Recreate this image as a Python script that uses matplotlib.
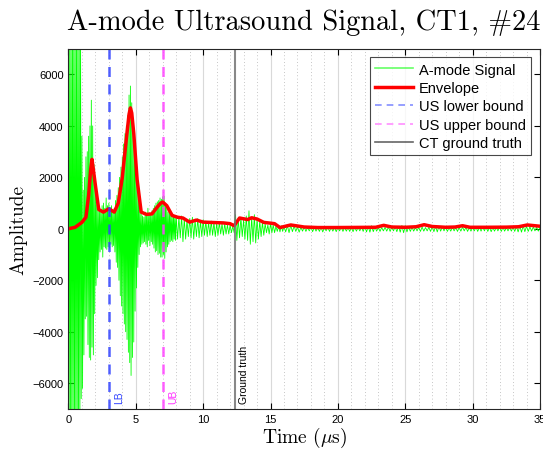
import numpy as np
import matplotlib
matplotlib.use("Agg")
import matplotlib.pyplot as plt
from matplotlib.ticker import MultipleLocator

# A-mode signal: positive / negative half-cycle peaks
# 0.0 - 7.9 us, step 0.1
peak_hi_a = [8000, 8000, 8000, 8000, 8000, 8000, 8000, 8000, 8000, 8000,
             3600, 1500, 2000, 2800, 3000, 3600, 4000, 5000, 4000, 2500,
             1600, 1200, 900, 800, 700, 900, 1000, 800, 1200, 900,
             1000, 800, 900, 700, 800, 1100, 1300, 1600, 2000, 2400,
             2800, 3300, 3700, 4000, 4400, 5200, 5550, 4900, 4200, 3500,
             2600, 1800, 1200, 800, 600, 500, 450, 650, 500, 800,
             600, 550, 700, 800, 900, 1000, 1050, 1100, 1200, 1150,
             1250, 1270, 1000, 800, 650, 600, 650, 500, 550, 450]
peak_lo_a = [-8000, -8000, -8000, -8000, -8000, -8000, -8000, -8000, -8000, -6600,
             -6200, -4900, -3500, -3400, -4500, -5000, -5100, -4600, -4900, -3300,
             -2200, -1900, -1200, -900, -800, -1100, -700, -750, -800, -700,
             -750, -600, -700, -650, -900, -1300, -1500, -2000, -2600, -3000,
             -3300, -3700, -4000, -4300, -4800, -5200, -5700, -5000, -4400, -3200,
             -2300, -1500, -1000, -700, -600, -550, -500, -600, -700, -450,
             -650, -500, -600, -750, -900, -850, -1000, -950, -1100, -1100,
             -1000, -1150, -900, -700, -600, -500, -450, -500, -400, -450]
# 8.0 - 15.8 us, step 0.2
peak_hi_b = [500, 450, 500, 400, 350, 400, 450, 350, 400, 300,
             350, 300, 250, 300, 250, 200, 250, 200, 200, 150,
             150, 100, 550, 400, 450, 350, 500, 700, 450, 550,
             400, 300, 250, 200, 150, 200, 150, 100, 100, 120]
peak_lo_b = [-400, -350, -500, -400, -300, -350, -400, -300, -350, -300,
             -250, -300, -250, -250, -300, -250, -200, -250, -200, -200,
             -150, -150, -450, -350, -300, -400, -450, -600, -500, -550,
             -400, -300, -250, -150, -200, -150, -150, -100, -120, -100]
# 16.0 - 35.0 us, step 0.25
peak_hi_c = [90, 120, 140, 110, 80, 60, 70, 50, 60, 70,
             50, 60, 50, 70, 60, 50, 60, 70, 60, 50,
             60, 70, 60, 80, 90, 100, 120, 80, 60, 50,
             60, 70, 60, 80, 100, 130, 120, 80, 60, 50,
             60, 70, 50, 60, 80, 90, 100, 80, 60, 50,
             60, 50, 60, 70, 60, 50, 60, 70, 60, 70,
             80, 60, 50, 60, 70, 60, 50, 60, 70, 90,
             110, 120, 100, 80, 70, 60, 60]
peak_lo_c = [-120, -150, -110, -100, -130, -90, -100, -80, -110, -90,
             -100, -120, -80, -100, -90, -110, -80, -100, -90, -100,
             -110, -90, -80, -100, -120, -130, -110, -90, -100, -80,
             -90, -100, -80, -110, -130, -150, -120, -100, -90, -80,
             -100, -90, -80, -100, -110, -120, -90, -80, -100, -90,
             -80, -100, -90, -80, -100, -90, -80, -100, -90, -80,
             -100, -110, -90, -80, -100, -90, -80, -90, -100, -120,
             -130, -110, -100, -90, -80, -90, -100]

# Envelope (time in us, amplitude)
env_t = [0.0, 0.5, 1.0, 1.3, 1.5, 1.65, 1.75, 1.85, 2.0, 2.25, 2.6, 3.0,
         3.4, 3.7, 4.0, 4.3, 4.5, 4.6, 4.7, 4.85, 5.1, 5.4, 5.8, 6.2,
         6.6, 6.85, 7.0, 7.3, 7.7, 8.1, 8.5, 9.0, 9.5, 10.0, 10.5, 11.0,
         11.5, 12.0, 12.3, 12.7, 13.0, 13.3, 13.6, 14.0, 14.5, 15.0, 15.3,
         15.7, 16.1, 16.5, 17.0, 17.5, 18.5, 20.0, 21.5, 22.8, 23.4, 24.0,
         25.0, 25.8, 26.4, 27.0, 28.0, 28.7, 29.25, 29.8, 31.0, 32.5, 33.4,
         34.06, 35.0]
env_amp = [0, 60, 250, 450, 1300, 2300, 2700, 2300, 1700, 750, 650, 780,
           650, 1000, 2000, 3500, 4450, 4700, 4500, 3700, 1900, 650, 560, 580,
           850, 1000, 1040, 900, 520, 450, 420, 260, 340, 260, 250, 240,
           230, 200, 120, 420, 390, 360, 430, 380, 250, 220, 200,
           50, 100, 150, 110, 70, 50, 50, 55, 60, 135, 70,
           60, 80, 160, 90, 60, 70, 120, 60, 60, 65, 80,
           150, 100]

lb_time = 3.02
ub_time = 7.02
gt_time = 12.33


def interleave(t0, step, hi, lo):
    t = t0 + step * np.arange(len(hi))
    ts = np.column_stack([t, t + step / 2]).ravel()
    ys = np.column_stack([hi, lo]).ravel()
    return ts, ys


ta, ya = interleave(0.0, 0.1, peak_hi_a, peak_lo_a)
tb, yb = interleave(8.0, 0.2, peak_hi_b, peak_lo_b)
tc, yc = interleave(16.0, 0.25, peak_hi_c, peak_lo_c)
sig_t = np.concatenate([ta, tb, tc])
sig_y = np.concatenate([ya, yb, yc])

plt.rcParams['mathtext.fontset'] = 'cm'
plt.rcParams['font.family'] = ['Liberation Sans', 'DejaVu Sans']

fig = plt.figure(figsize=(5.43, 4.56), dpi=100)
ax = fig.add_axes([0.126, 0.101, 0.8685, 0.790])

ax.plot(sig_t, sig_y, color='#00ff00', lw=0.6, label='A-mode Signal')
ax.plot(env_t, env_amp, color='red', lw=2.5, label='Envelope')
ax.axvline(lb_time, color='#3344ff', lw=1.8, ls=(0, (4, 3)), alpha=0.85,
           label='US lower bound')
ax.axvline(ub_time, color='#ff44ff', lw=1.8, ls=(0, (4, 3)), alpha=0.85,
           label='US upper bound')
ax.axvline(gt_time, color='0.45', lw=1.5, alpha=0.85, label='CT ground truth')

ax.text(lb_time + 0.4, -6750, 'LB', rotation=90, color='#3344ff',
        fontsize=7.5, va='bottom', ha='left')
ax.text(ub_time + 0.4, -6750, 'UB', rotation=90, color='#ff33ff',
        fontsize=7.5, va='bottom', ha='left')
ax.text(gt_time + 0.3, -6750, 'Ground truth', rotation=90, color='black',
        fontsize=7.5, va='bottom', ha='left')

ax.set_xlim(0, 35)
ax.set_ylim(-7000, 7000)
ax.xaxis.set_major_locator(MultipleLocator(5))
ax.xaxis.set_minor_locator(MultipleLocator(1))
ax.yaxis.set_major_locator(MultipleLocator(2000))
ax.grid(True, which='major', axis='x', color='0.85', lw=0.8)
ax.grid(True, which='minor', axis='x', color='0.7', lw=0.6, ls=(0, (1, 3)))
ax.set_axisbelow(True)
ax.tick_params(which='both', direction='in', top=True, right=True,
               labelsize=8, length=4, width=0.8)
ax.tick_params(which='minor', length=0)
for s in ax.spines.values():
    s.set_linewidth(0.8)
    s.set_color('0.15')

ax.set_title('A-mode Ultrasound Signal, CT1, #24', fontfamily='cmr10',
             fontsize=20.5, pad=14)
ax.set_xlabel(r'Time ($\mu$s)', fontfamily='cmr10', fontsize=14, labelpad=1)
ax.set_ylabel('Amplitude', fontfamily='cmr10', fontsize=14, labelpad=4)

leg = ax.legend(loc='upper right', fontsize=10.5, frameon=True, fancybox=False,
                handlelength=2.6, borderaxespad=0.6, labelspacing=0.3,
                handletextpad=0.4, borderpad=0.35)
leg.get_frame().set_edgecolor('0.1')
leg.get_frame().set_linewidth(0.8)
for h in leg.get_lines():
    h.set_linewidth(1.2)
    h.set_alpha(0.6)
leg.get_lines()[1].set_linewidth(2.5)
leg.get_lines()[1].set_alpha(1)
leg.get_lines()[4].set_color('black')

fig.savefig('out.png', dpi=100)
